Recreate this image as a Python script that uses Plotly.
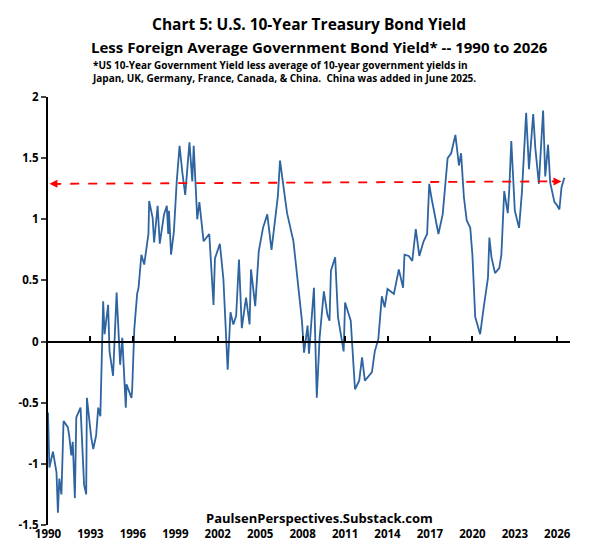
import plotly.graph_objects as go

years = [1990.0,1990.1,1990.35,1990.6,1990.7,1990.8,1990.95,1991.1,1991.4,1991.5,1991.65,1991.75,1991.9,1992.0,1992.3,1992.55,1992.7,1992.75,1993.05,1993.2,1993.4,1993.55,1993.7,1993.9,1994.0,1994.25,1994.35,1994.6,1994.85,1995.1,1995.25,1995.5,1995.55,1995.9,1995.95,1996.1,1996.3,1996.4,1996.6,1996.8,1997.1,1997.15,1997.4,1997.5,1997.75,1997.9,1998.2,1998.4,1998.5,1998.55,1998.7,1998.9,1999.1,1999.3,1999.5,1999.7,2000.0,2000.2,2000.3,2000.55,2000.7,2001.0,2001.4,2001.55,2001.7,2001.8,2002.15,2002.4,2002.7,2002.9,2003.1,2003.3,2003.5,2003.7,2004.0,2004.25,2004.35,2004.65,2004.9,2005.2,2005.5,2005.8,2006.25,2006.4,2006.7,2006.9,2007.35,2007.6,2007.95,2008.1,2008.35,2008.45,2008.8,2009.0,2009.2,2009.5,2009.75,2009.9,2010.0,2010.3,2010.5,2010.9,2011.0,2011.4,2011.7,2012.0,2012.2,2012.4,2012.9,2013.1,2013.35,2013.6,2013.8,2014.0,2014.45,2014.8,2015.1,2015.2,2015.5,2015.75,2016.0,2016.25,2016.55,2016.8,2016.95,2017.1,2017.6,2017.9,2018.1,2018.25,2018.5,2018.8,2019.05,2019.2,2019.4,2019.6,2019.85,2020.0,2020.2,2020.55,2020.8,2021.1,2021.2,2021.35,2021.6,2021.9,2022.05,2022.25,2022.5,2022.6,2022.75,2023.0,2023.3,2023.5,2023.8,2024.0,2024.3,2024.45,2024.7,2025.0,2025.15,2025.35,2025.5,2025.8,2025.95,2026.15,2026.3,2026.5]
spread = [-0.58,-1.03,-0.9,-1.07,-1.4,-1.12,-1.25,-0.65,-0.7,-0.77,-0.93,-0.82,-1.28,-0.62,-0.54,-1.17,-1.25,-0.46,-0.78,-0.88,-0.77,-0.54,-0.61,0.33,0.06,0.3,-0.08,-0.28,0.4,-0.19,0.03,-0.54,-0.35,-0.46,-0.39,0.1,0.39,0.44,0.71,0.63,0.88,1.15,1.01,0.81,1.11,0.8,1.04,1.11,0.88,1.07,0.71,0.9,1.31,1.6,1.38,1.2,1.63,1.31,1.6,1.0,1.14,0.82,0.88,0.63,0.3,0.68,0.8,0.51,-0.23,0.24,0.14,0.21,0.67,0.11,0.36,0.14,0.59,0.29,0.74,0.93,1.04,0.75,1.19,1.48,1.23,1.05,0.82,0.55,0.17,-0.09,0.13,-0.1,0.44,-0.46,0.03,0.41,0.22,0.17,0.58,0.69,0.2,-0.08,0.32,0.17,-0.39,-0.32,-0.13,-0.32,-0.25,-0.08,0.02,0.37,0.28,0.43,0.39,0.59,0.44,0.71,0.7,0.66,0.92,0.7,0.82,0.88,1.29,1.18,0.88,1.04,1.34,1.5,1.54,1.69,1.44,1.54,1.18,0.99,0.93,0.71,0.2,0.06,0.28,0.52,0.85,0.69,0.56,0.6,0.71,1.23,1.05,1.23,1.64,1.07,0.93,1.22,1.87,1.41,1.86,1.58,1.29,1.89,1.35,1.61,1.3,1.14,1.12,1.08,1.26,1.34]
tick_years = [1990,1993,1996,1999,2002,2005,2008,2011,2014,2017,2020,2023,2026]
ref_level = 1.29

fnt = "Open Sans"
fig = go.Figure()
fig.add_trace(go.Scatter(x=years, y=spread, mode="lines", line=dict(color="#2E64A0", width=1.8), showlegend=False))
fig.add_trace(go.Scatter(x=[1990, 2026.5], y=[0, 0], xaxis="x2", mode="lines", line=dict(color="rgba(0,0,0,0)"), showlegend=False, hoverinfo="skip"))

fig.add_shape(type="line", x0=1990.3, x1=2025.8, y0=ref_level, y1=ref_level+0.02, line=dict(color="red", width=1.8, dash="dash"))
fig.add_annotation(x=1990.1, y=ref_level, ax=1990.9, ay=ref_level, xref="x", yref="y", axref="x", ayref="y", text="", showarrow=True, arrowhead=2, arrowsize=1, arrowwidth=1.6, arrowcolor="red")
fig.add_annotation(x=2026.3, y=ref_level+0.02, ax=2025.5, ay=ref_level+0.02, xref="x", yref="y", axref="x", ayref="y", text="", showarrow=True, arrowhead=2, arrowsize=1, arrowwidth=1.6, arrowcolor="red")

fig.update_layout(
    width=589, height=550, plot_bgcolor="white", paper_bgcolor="white",
    margin=dict(l=40, r=27, t=89, b=33, autoexpand=False),
    font=dict(family=fnt, color="black"),
    xaxis=dict(range=[1990, 2026.9], tickvals=tick_years, ticktext=[f"<b>{t}</b>" for t in tick_years], automargin=False,
               showline=False, ticks="", showgrid=False, zeroline=False, tickfont=dict(size=11.5)),
    xaxis2=dict(range=[1990, 2026.9], overlaying="x", anchor="free", position=1.5/3.5, side="bottom",
                tickvals=tick_years, showticklabels=False, showline=True, linecolor="black", linewidth=2,
                ticks="inside", ticklen=5, tickwidth=2, tickcolor="black", showgrid=False, zeroline=False),
    yaxis=dict(range=[-1.5, 2], tickvals=[-1.5,-1,-0.5,0,0.5,1,1.5,2], automargin=False,
               ticktext=["<b>-1.5</b>","<b>-1</b>","<b>-0.5</b>","<b>0</b>","<b>0.5</b>","<b>1</b>","<b>1.5</b>","<b>2</b>"],
               showline=True, linecolor="black", linewidth=2, ticks="outside", ticklen=5, tickwidth=2,
               showgrid=False, zeroline=False, tickfont=dict(size=11.5)),
)
fig.add_annotation(x=0.5, y=1, xref="paper", yref="paper", yanchor="top", xanchor="center", showarrow=False,
                   text="<b>Chart 5: U.S. 10-Year Treasury Bond Yield</b>", font=dict(size=15.5), yshift=86)
fig.add_annotation(xref="paper", yref="paper", x=0.52, y=1, yanchor="top", showarrow=False,
                   text="<b>Less Foreign Average Government Bond Yield* -- 1990 to 2026</b>", font=dict(size=15), yshift=62)
fig.add_annotation(xref="paper", yref="paper", x=0.08, y=1, xanchor="left", yanchor="top", showarrow=False, align="left",
                   text="<b>*US 10-Year Government Yield less average of 10-year government yields in<br>Japan, UK, Germany, France, Canada, &amp; China.  China was added in June 2025.</b>",
                   font=dict(size=10), yshift=41)
fig.add_annotation(xref="paper", yref="paper", x=0.52, y=0, yanchor="bottom", showarrow=False,
                   text="<b>PaulsenPerspectives.Substack.com</b>", font=dict(size=13), yshift=-4)
fig.write_html("out.html")
